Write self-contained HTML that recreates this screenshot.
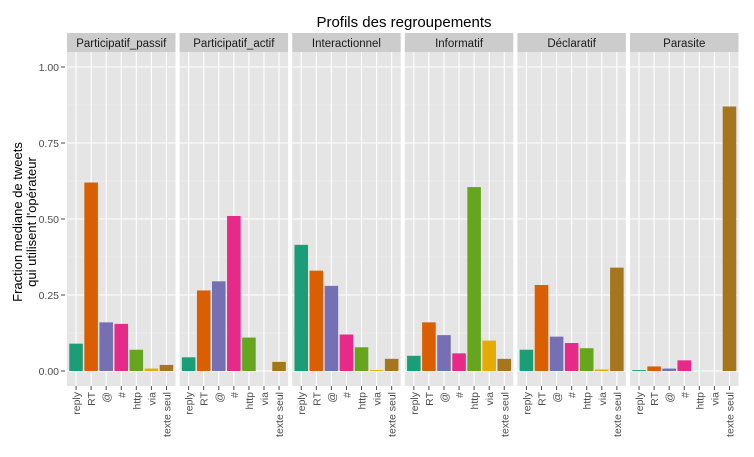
<!DOCTYPE html>
<html><head><meta charset="utf-8"><style>
body{margin:0;background:#fff;font-family:"Liberation Sans",sans-serif}
</style></head><body>
<svg id="c" width="754" height="452" xmlns="http://www.w3.org/2000/svg" font-family="Liberation Sans, sans-serif"></svg>
<script>
const facets=["Participatif_passif","Participatif_actif","Interactionnel","Informatif","Déclaratif","Parasite"];
const categories=["reply","RT","@","#","http","via","texte seul"];
const colors=["#1B9E77","#D95F02","#7570B3","#E7298A","#66A61E","#E6AB02","#A6761D"];
const valsPassif=[0.09,0.62,0.16,0.155,0.07,0.008,0.02];
const valsActif=[0.045,0.265,0.295,0.51,0.11,0,0.03];
const valsInter=[0.415,0.33,0.28,0.12,0.078,0.003,0.04];
const valsInfo=[0.05,0.16,0.118,0.058,0.605,0.1,0.04];
const valsDecl=[0.07,0.283,0.113,0.092,0.075,0.005,0.34];
const valsPara=[0.003,0.015,0.008,0.035,0,0,0.87];
const series=[valsPassif,valsActif,valsInter,valsInfo,valsDecl,valsPara];
const yTicks=[0,0.25,0.5,0.75,1];
const yTickLabels=["0.00","0.25","0.50","0.75","1.00"];

const svg=document.getElementById('c');
const NS="http://www.w3.org/2000/svg";
function mk(t,a,p){const e=document.createElementNS(NS,t);for(const k in a)e.setAttribute(k,a[k]);(p||svg).appendChild(e);return e;}
const pTop=52,pBot=386,x0=67,pw=108.5,step=112.6;
const y=v=>371-v*304;
const unit=pw/7.2;
const xc=(f,i)=>x0+f*step+(0.6+i)*unit;

let t=mk('text',{x:404,y:27,'text-anchor':'middle','font-size':15,fill:'#000'});t.textContent="Profils des regroupements";



let yt=mk('text',{transform:'translate(22,222) rotate(-90)','text-anchor':'middle','font-size':13,fill:'#000'});


let s1=mk('tspan',{x:0,dy:0},yt);s1.textContent="Fraction mediane de tweets";
let s2=mk('tspan',{x:0,dy:14},yt);s2.textContent="qui utilisent l'opérateur";

yTicks.forEach((v,i)=>{
  let l=mk('text',{x:59,y:y(v)+4,'text-anchor':'end','font-size':10.5,fill:'#4d4d4d'});l.textContent=yTickLabels[i];
  
  
  mk('line',{x1:61,x2:65,y1:y(v),y2:y(v),stroke:'#4d4d4d'});
});

facets.forEach((name,f)=>{
  const px=x0+f*step;
  const g=mk('g',{});
  
  
  const strip=mk('rect',{x:px,y:33,width:pw,height:19,fill:'#cccccc'},g);
  
  
  const st=mk('text',{x:px+pw/2,y:47,'text-anchor':'middle','font-size':11.5,fill:'#1a1a1a'},g);st.textContent=name;
  mk('rect',{x:px,y:pTop,width:pw,height:pBot-pTop,fill:'#e5e5e5'},g);
  [0.125,0.375,0.625,0.875].forEach(v=>mk('line',{x1:px,x2:px+pw,y1:y(v),y2:y(v),stroke:'#f2f2f2','stroke-width':0.6},g));
  yTicks.forEach(v=>mk('line',{x1:px,x2:px+pw,y1:y(v),y2:y(v),stroke:'#fff','stroke-width':1.1},g));
  categories.forEach((c,i)=>mk('line',{x1:xc(f,i),x2:xc(f,i),y1:pTop,y2:pBot,stroke:'#fff','stroke-width':1.1},g));
  categories.forEach((c,i)=>{
    const v=series[f][i];
    const b=mk('rect',{x:xc(f,i)-unit*0.45,y:y(v),width:unit*0.9,height:y(0)-y(v),fill:colors[i]},g);
    
    
    mk('line',{x1:xc(f,i),x2:xc(f,i),y1:pBot,y2:pBot+4,stroke:'#4d4d4d'},g);
    const l=mk('text',{transform:`translate(${xc(f,i)+4},${pBot+6}) rotate(-90)`,'text-anchor':'end','font-size':10.5,fill:'#4d4d4d'},g);
    l.textContent=c;
    
    
  });
});
</script>
</body></html>
